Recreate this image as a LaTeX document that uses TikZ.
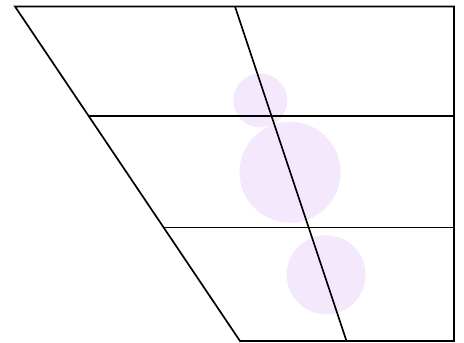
\documentclass[tikz,border=0pt]{standalone}
\definecolor{vowelpink}{RGB}{243,232,252}
\begin{document}
\begin{tikzpicture}[x=1pt,y=-1pt,line width=1.7pt]
			\useasboundingbox (0,0) rectangle (464,343);
			\coordinate (tl) at (15,6.5);
			\coordinate (tm) at (235,6.5);
			\coordinate (tr) at (454,6.5);
			\coordinate (bl) at (240,341);
			\coordinate (bm) at (346.5,341);
			\coordinate (br) at (454,341);
			\coordinate (ul) at (88.7,116);
			\coordinate (ur) at (454,116);
			\coordinate (ll) at (163.8,227.5);
			\coordinate (lr) at (454,227.5);
			
			\fill[vowelpink] (260.3,100.5) circle (27);
			\fill[vowelpink] (290,172.2) circle (50.5);
			\fill[vowelpink] (326.2,274.8) circle (39.5);
			
			\draw[line join=miter] (bl) -- (tl) -- (tr) -- (br) -- cycle;
			\draw (ul) -- (ur);
			\draw (ll) -- (lr);
			\draw (tm) -- (bm);
		\end{tikzpicture}
\end{document}
